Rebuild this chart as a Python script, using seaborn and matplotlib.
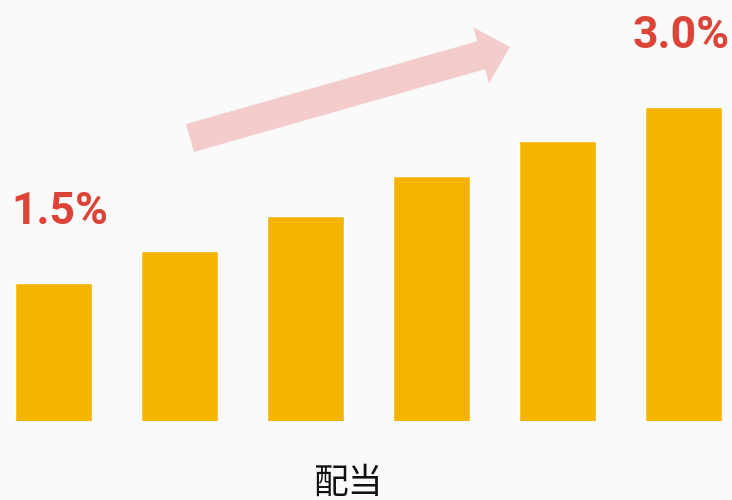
import matplotlib
matplotlib.use("Agg")
import matplotlib.pyplot as plt
from matplotlib.patches import FancyArrow
from matplotlib.transforms import IdentityTransform
import pandas as pd
import seaborn as sns

# dividend yield per year (axis starts above zero)
periods = ["1", "2", "3", "4", "5", "6"]
yields = [1.5, 1.77, 2.07, 2.41, 2.71, 3.0]
first_label = "1.5%"
last_label = "3.0%"
x_title = "配当"

BG = "#FAFAFA"
BAR = "#F4B400"
RED = "#DB4437"
PINK = "#F4CCCC"

sns.set_theme(style="white")
plt.rcParams["font.family"] = ["Noto Sans CJK JP", "DejaVu Sans"]

W, H = 732, 500
fig = plt.figure(figsize=(W / 100, H / 100), dpi=100, facecolor=BG)
ax = fig.add_axes([15 / W, 79 / H, 707 / W, 314 / H])
ax.set_facecolor(BG)

df = pd.DataFrame({"period": periods, "yield": yields})
sns.barplot(data=df, x="period", y="yield", color=BAR, width=0.611, saturation=1, ax=ax)

ax.set_xlim(-0.3055, 5.3055)
ax.set_ylim(0.324, 3.0)
ax.set_xlabel("")
ax.set_ylabel("")
ax.set_xticks([])
ax.set_yticks([])
for s in ax.spines.values():
    s.set_visible(False)

# pink trend arrow, in pixel coordinates
x0, y0 = 190, H - 138
x1, y1 = 510, H - 47
arrow = FancyArrow(x0, y0, x1 - x0, y1 - y0, width=29, head_width=58, head_length=30,
                   length_includes_head=True, color=PINK, lw=0, transform=IdentityTransform())
fig.add_artist(arrow)

num_style = dict(color=RED, family="Roboto", fontweight="bold", fontsize=32, va="baseline")
fig.text(11 / W, 1 - 224 / H, first_label, ha="left", **num_style)
fig.text(730 / W, 1 - 48 / H, last_label, ha="right", **num_style)
fig.text(348 / W, 1 - 483 / H, x_title, color="#111111", fontsize=25,
         ha="center", va="center")

fig.savefig("out.png", dpi=100, facecolor=BG)
